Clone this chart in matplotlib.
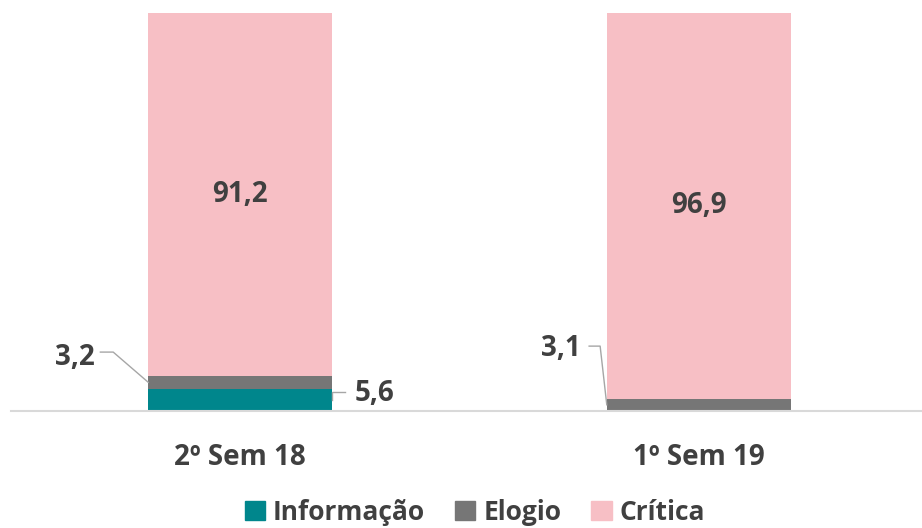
import matplotlib.pyplot as plt
from matplotlib.patches import Patch

# dados (%)
semestres = ["2º Sem 18", "1º Sem 19"]
informacao = [5.6, 0.0]
elogio = [3.2, 3.1]
critica = [91.2, 96.9]

cor_info = "#00868C"
cor_elogio = "#767676"
cor_critica = "#F7BFC5"
cor_texto = "#404040"
cor_guia = "#A6A6A6"

plt.rcParams["font.family"] = ["Open Sans", "DejaVu Sans"]
plt.rcParams["font.weight"] = "bold"

fig = plt.figure(figsize=(9.22, 5.28), dpi=100)
ax = fig.add_axes([0.0119, 0.2216, 0.9881, 0.7538])

x = [0, 1]
larg = 0.401
base_elogio = informacao
base_critica = [i + e for i, e in zip(informacao, elogio)]

ax.bar(x, informacao, larg, color=cor_info)
ax.bar(x, elogio, larg, bottom=base_elogio, color=cor_elogio)
ax.bar(x, critica, larg, bottom=base_critica, color=cor_critica)

ax.set_xlim(-0.5, 1.487)
ax.set_ylim(0, 100)

fs_val = 20

# rótulos dentro da crítica
for xi, b, v in zip(x, base_critica, critica):
    ax.text(xi, b + v / 2, f"{v:.1f}".replace(".", ","), ha="center", va="center",
            fontsize=fs_val, fontweight="bold", color=cor_texto)

# rótulos externos com linhas guia
esq = x[0] - larg / 2
dir_ = x[0] + larg / 2
y_el = informacao[0] + elogio[0] / 2
ax.plot([-0.305, -0.277, esq], [14.8, 14.8, y_el], color=cor_guia, lw=1, clip_on=False)
ax.text(-0.318, 13.4, f"{elogio[0]:.1f}".replace(".", ","), ha="right", va="center",
        fontsize=fs_val, fontweight="bold", color=cor_texto)

y_in = informacao[0] / 2
ax.plot([dir_, dir_, 0.229], [y_in, 4.8, 4.8], color=cor_guia, lw=1)
ax.text(0.249, 4.3, f"{informacao[0]:.1f}".replace(".", ","), ha="left", va="center",
        fontsize=fs_val, fontweight="bold", color=cor_texto)

esq2 = x[1] - larg / 2
ax.plot([0.761, 0.785, esq2], [16.3, 16.3, elogio[1] / 2], color=cor_guia, lw=1)
ax.text(0.742, 15.6, f"{elogio[1]:.1f}".replace(".", ","), ha="right", va="center",
        fontsize=fs_val, fontweight="bold", color=cor_texto)

for s in ["top", "right", "left"]:
    ax.spines[s].set_visible(False)
ax.spines["bottom"].set_color("#D9D9D9")
ax.spines["bottom"].set_linewidth(1.5)
ax.set_yticks([])
ax.set_xticks(x)
ax.set_xticklabels(semestres, fontsize=20, fontweight="bold", color=cor_texto)
ax.tick_params(axis="x", length=0, pad=23)

handles = [Patch(color=cor_info), Patch(color=cor_elogio), Patch(color=cor_critica)]
fig.legend(handles, ["Informação", "Elogio", "Crítica"], loc="center",
           bbox_to_anchor=(0.515, 0.03), ncol=3, frameon=False,
           prop={"size": 19, "weight": "bold"}, labelcolor=cor_texto,
           handlelength=0.76, handleheight=0.76, handletextpad=0.3,
           columnspacing=1.15, borderpad=0)

fig.savefig("out.png", dpi=100)
